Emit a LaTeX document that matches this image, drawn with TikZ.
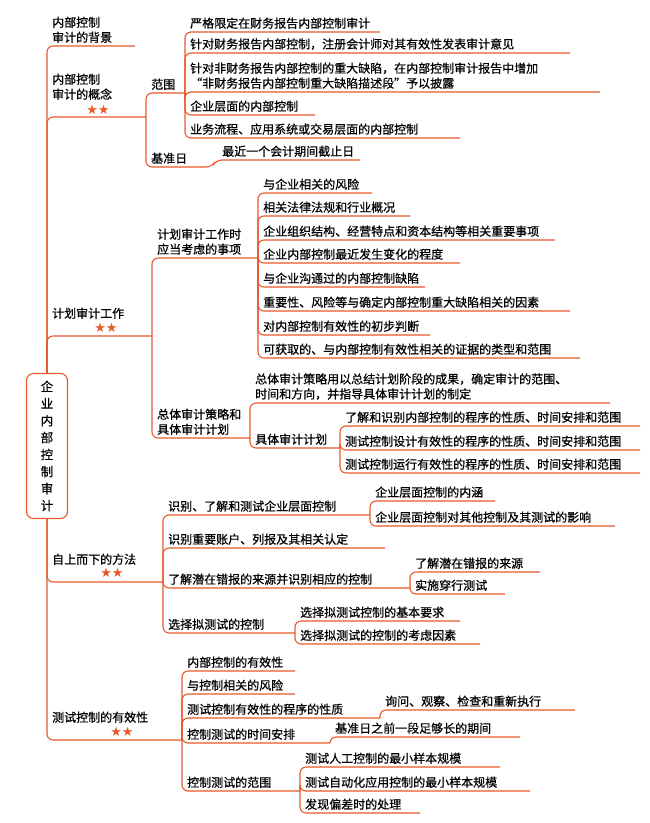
\documentclass[tikz,border=0pt]{standalone}
\usepackage{fontspec}
\setmainfont{Noto Sans CJK SC}[FakeBold=0.6]
\newfontfamily\symf{DejaVu Sans}
\definecolor{ln}{RGB}{232,88,42}
\tikzset{lnst/.style={draw=ln,line width=1.1pt,rounded corners=6pt},
 txt/.style={inner sep=0pt,font=\fontsize{12}{15}\selectfont,align=left},
 stars/.style={inner sep=0pt,text=ln,font=\symf\fontsize{13}{13}\selectfont}}
% branch: xv, yparent, ychild, xend, text
\newcommand\br[5]{\draw[lnst] (#1,#2) |- (#4,#3);
 \node[txt,anchor=south west] at (#1+5,#3-3) {#5};}
\newcommand\brs[5]{\draw[lnst] (#1,#2) |- (#4,#3);
 \node[txt,anchor=south west] at (#1+5,#3-17) {#5};}
\begin{document}
\begin{tikzpicture}[x=1pt,y=-1pt]
\useasboundingbox (0,0) rectangle (650,823);
\fill[white] (0,0) rectangle (650,823);
% root
\node[draw=ln,line width=1.1pt,rounded corners=7pt,minimum width=41pt,minimum height=145pt,inner sep=0pt,font=\fontsize{12.5}{17}\selectfont,align=center] (root) at (47,446) {企\\业\\内\\部\\控\\制\\审\\计};
% level 1
\br{47}{373}{46}{135}{内部控制\\审计的背景}
\brs{47}{373}{117}{146}{内部控制\\审计的概念}
\node[stars] (s1) at (98,110) {★★};
\brs{47}{373}{336}{152}{计划审计工作}
\node[stars] (s2) at (106,328) {★★};
\brs{47}{518}{582}{163}{自上而下的方法}
\node[stars] (s3) at (112,573) {★★};
\brs{47}{518}{740}{182}{测试控制的有效性}
\node[stars] (s4) at (122,732) {★★};
% concept
\br{146}{117}{93}{185}{范围}
\draw[lnst] (146,117) |- (212,167) -- (216,160) -- (360,160);
\node[txt,anchor=south west] at (151,164) {基准日};
\node[txt,anchor=south west] (jzr) at (222,157) {最近一个会计期间截止日};
\br{185}{93}{32}{380}{严格限定在财务报告内部控制审计}
\br{185}{93}{53}{570}{针对财务报告内部控制，注册会计师对其有效性发表审计意见}
\br{185}{93}{92}{600}{针对非财务报告内部控制的重大缺陷，在内部控制审计报告中增加\\“非财务报告内部控制重大缺陷描述段”予以披露}
\br{185}{93}{115}{315}{企业层面的内部控制}
\br{185}{93}{138}{460}{业务流程、应用系统或交易层面的内部控制}
% plan
\br{152}{336}{258}{258}{计划审计工作时\\应当考虑的事项}
\br{152}{336}{438}{250}{总体审计策略和\\具体审计计划}
\br{258}{258}{193}{372}{与企业相关的风险}
\br{258}{258}{216}{410}{相关法律法规和行业概况}
\br{258}{258}{240}{555}{企业组织结构、经营特点和资本结构等相关重要事项}
\br{258}{258}{263}{460}{企业内部控制最近发生变化的程度}
\br{258}{258}{287}{425}{与企业沟通过的内部控制缺陷}
\br{258}{258}{311}{570}{重要性、风险等与确定内部控制重大缺陷相关的因素}
\br{258}{258}{335}{430}{对内部控制有效性的初步判断}
\br{258}{258}{358}{580}{可获取的、与内部控制有效性相关的证据的类型和范围}
\br{250}{438}{403}{610}{总体审计策略用以总结计划阶段的成果，确定审计的范围、\\时间和方向，并指导具体审计计划的制定}
\br{250}{438}{448}{340}{具体审计计划}
\br{340}{448}{426}{640}{了解和识别内部控制的程序的性质、时间安排和范围}
\br{340}{448}{450}{640}{测试控制设计有效性的程序的性质、时间安排和范围}
\br{340}{448}{473}{640}{测试控制运行有效性的程序的性质、时间安排和范围}
% top-down
\br{163}{582}{515}{370}{识别、了解和测试企业层面控制}
\br{163}{582}{548}{385}{识别重要账户、列报及其相关认定}
\br{163}{582}{588}{410}{了解潜在错报的来源并识别相应的控制}
\br{163}{582}{633}{295}{选择拟测试的控制}
\br{370}{515}{501}{495}{企业层面控制的内涵}
\br{370}{515}{526}{615}{企业层面控制对其他控制及其测试的影响}
\br{410}{588}{572}{540}{了解潜在错报的来源}
\br{410}{588}{594}{505}{实施穿行测试}
\br{295}{633}{621}{460}{选择拟测试控制的基本要求}
\br{295}{633}{644}{480}{选择拟测试的控制的考虑因素}
% testing
\br{182}{740}{671}{295}{内部控制的有效性}
\br{182}{740}{694}{295}{与控制相关的风险}
\br{182}{740}{718}{380}{测试控制有效性的程序的性质}
\br{182}{740}{743}{330}{控制测试的时间安排}
\br{182}{740}{791}{300}{控制测试的范围}
\br{380}{718}{710}{575}{询问、观察、检查和重新执行}
\br{330}{743}{737}{520}{基准日之前一段足够长的期间}
\br{300}{791}{767}{500}{测试人工控制的最小样本规模}
\br{300}{791}{791}{530}{测试自动化应用控制的最小样本规模}
\br{300}{791}{813}{420}{发现偏差时的处理}
\end{tikzpicture}
\end{document}
